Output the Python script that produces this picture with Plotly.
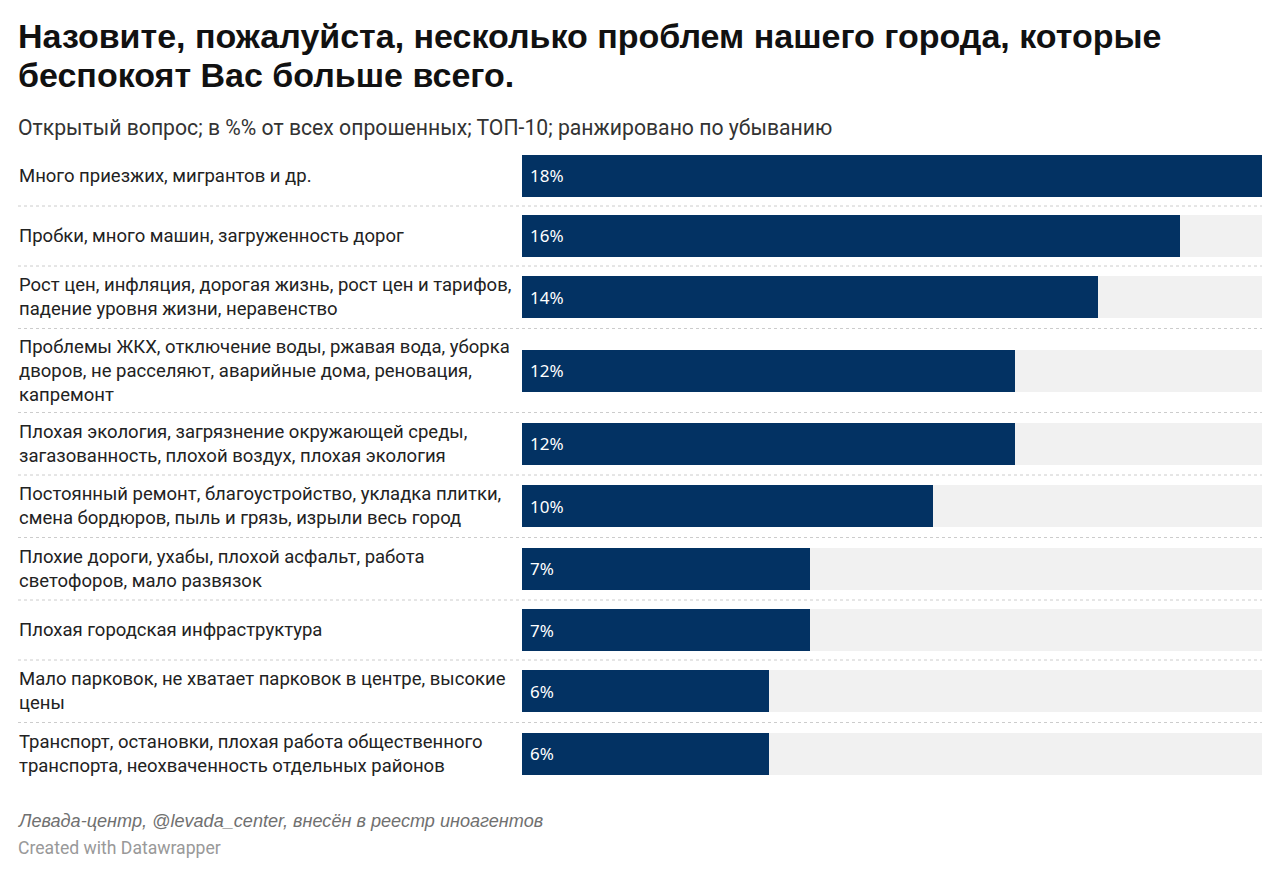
import plotly.graph_objects as go

# ---- data ----
categories = [
    "Много приезжих, мигрантов и др.",
    "Пробки, много машин, загруженность дорог",
    "Рост цен, инфляция, дорогая жизнь, рост цен и тарифов,<br>падение уровня жизни, неравенство",
    "Проблемы ЖКХ, отключение воды, ржавая вода, уборка<br>дворов, не расселяют, аварийные дома, реновация,<br>капремонт",
    "Плохая экология, загрязнение окружающей среды,<br>загазованность, плохой воздух, плохая экология",
    "Постоянный ремонт, благоустройство, укладка плитки,<br>смена бордюров, пыль и грязь, изрыли весь город",
    "Плохие дороги, ухабы, плохой асфальт, работа<br>светофоров, мало развязок",
    "Плохая городская инфраструктура",
    "Мало парковок, не хватает парковок в центре, высокие<br>цены",
    "Транспорт, остановки, плохая работа общественного<br>транспорта, неохваченность отдельных районов",
]
values = [18, 16, 14, 12, 12, 10, 7, 7, 6, 6]
x_max = 18

title_lines = [
    "Назовите, пожалуйста, несколько проблем нашего города, которые",
    "беспокоят Вас больше всего.",
]
subtitle = "Открытый вопрос; в %% от всех опрошенных; ТОП-10; ранжировано по убыванию"
source = "Левада-центр, @levada_center, внесён в реестр иноагентов"
credit = "Created with Datawrapper"

# ---- layout helpers ----
OFF = 8                      # page body margin
W, H = 1280 - 2 * OFF, 875 - 2 * OFF


def px_x(sx):
    return (sx - OFF) / W


def px_y(sy):
    return 1 - (sy - OFF) / H


ROW_H = {1: 60, 2: 62.5, 3: 84}
BAR_H = 42
heights = [ROW_H[c.count("<br>") + 1] for c in categories]
bounds = [0]
for h in heights:
    bounds.append(bounds[-1] + h)
centers = [(bounds[i] + bounds[i + 1]) / 2 for i in range(len(heights))]
total = bounds[-1]

top_px = 146
bot_px = top_px + total
ROBOTO = "Roboto, Arial, sans-serif"
ARIAL = "Liberation Sans, Arial, sans-serif"
NOTO = "Noto Sans, Open Sans, sans-serif"
BAR_COLOR = "#033263"
BG_COLOR = "#f1f1f1"

fig = go.Figure()
fig.add_trace(go.Bar(
    x=[x_max] * len(values), y=centers, orientation="h", width=BAR_H,
    marker=dict(color=BG_COLOR, line=dict(width=0)), hoverinfo="skip", showlegend=False,
))
fig.add_trace(go.Bar(
    x=values, y=centers, orientation="h", width=BAR_H,
    marker=dict(color=BAR_COLOR, line=dict(width=0)), showlegend=False,
    hovertemplate="%{x}%<extra></extra>",
))

annotations = []
for c, yc in zip(categories, centers):
    annotations.append(dict(
        text=c, x=px_x(17), xref="paper", y=yc, yref="y", xanchor="left", yanchor="middle",
        align="left", showarrow=False, font=dict(family=ROBOTO, size=18.5, color="#222222"),
    ))
for v, yc in zip(values, centers):
    annotations.append(dict(
        text=f"{v}%", x=0, xref="x", y=yc, yref="y", xanchor="left", yanchor="middle",
        xshift=6, showarrow=False, font=dict(family=NOTO, size=17, color="#ffffff"),
    ))

for line, sy in zip(title_lines, [36, 75]):
    annotations.append(dict(
        text="<b>" + line + "</b>", x=px_x(16), xref="paper", y=px_y(sy), yref="paper",
        xanchor="left", yanchor="middle", align="left", showarrow=False,
        font=dict(family=ARIAL, size=34, color="#111111"),
    ))
annotations += [
    dict(text=subtitle, x=px_x(16), xref="paper", y=px_y(127), yref="paper",
         xanchor="left", yanchor="middle", align="left", showarrow=False,
         font=dict(family=ROBOTO, size=21.2, color="#333333")),
    dict(text="<i>" + source + "</i>", x=px_x(16), xref="paper", y=px_y(821), yref="paper",
         xanchor="left", yanchor="middle", align="left", showarrow=False,
         font=dict(family=ARIAL, size=18.1, color="#707070")),
    dict(text=credit, x=px_x(16), xref="paper", y=px_y(848), yref="paper",
         xanchor="left", yanchor="middle", align="left", showarrow=False,
         font=dict(family=ROBOTO, size=17.6, color="#999999")),
]

shapes = []
for b in bounds[1:-1]:
    shapes.append(dict(
        type="line", xref="paper", yref="y", x0=px_x(18), x1=px_x(1262), y0=b, y1=b,
        line=dict(color="#cccccc", width=1, dash="dot"), layer="below",
    ))

fig.update_layout(
    width=W, height=H, margin=dict(l=0, r=0, t=0, b=0),
    paper_bgcolor="white", plot_bgcolor="white",
    barmode="overlay", bargap=0,
    xaxis=dict(domain=[px_x(522), px_x(1262)], range=[0, x_max], visible=False, fixedrange=True),
    yaxis=dict(domain=[px_y(bot_px), px_y(top_px)], range=[total, 0], visible=False, fixedrange=True),
    annotations=annotations, shapes=shapes,
    font=dict(family=ROBOTO),
)

fig.write_html("out.html")
